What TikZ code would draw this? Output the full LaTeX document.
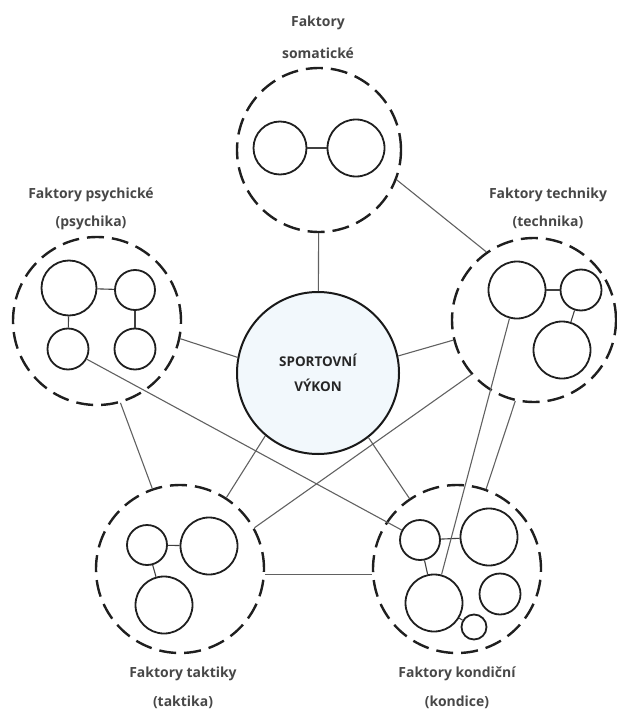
\documentclass[tikz,border=0pt]{standalone}
\usepackage{fontspec}
\setmainfont{Open Sans}
\definecolor{lbl}{HTML}{474747}
\definecolor{cenfill}{HTML}{F2F8FC}
\definecolor{ctext}{HTML}{262626}
\begin{document}
\begin{tikzpicture}[x=1bp,y=-1bp,
  outer/.style={circle,draw=black!88,line width=2.4bp,dash pattern=on 17bp off 8bp,inner sep=0pt,minimum size=#1},
  inner/.style={circle,draw=black!88,line width=1.8bp,inner sep=0pt,minimum size=#1},
  link/.style={draw=black!62,line width=1.1bp},
  ilink/.style={draw=black!75,line width=1.1bp},
  lab/.style={font=\bfseries\fontsize{14}{16}\selectfont,text=lbl,inner sep=0pt},
  ctr/.style={circle,draw=black!90,line width=2bp,fill=cenfill,inner sep=0pt,minimum size=162bp,
    font=\bfseries\fontsize{13.5}{25}\selectfont,text=ctext,align=center}]
\useasboundingbox (0,0) rectangle (617,711);

% outer dashed circles
\node[outer=164bp] (som) at (319,150) {};
\node[outer=168bp] (psy) at (97,321) {};
\node[outer=164bp] (tec) at (534,320) {};
\node[outer=168bp] (tak) at (180,569) {};
\node[outer=168bp] (kon) at (457,569) {};

% center
\node[ctr] (cen) at (318,373) {SPORTOVNÍ\\VÝKON};

% labels
\node[lab] (l1a) at (318,23) {Faktory};
\node[lab] (l1b) at (318,53) {somatické};
\node[lab] (l2a) at (91,195) {Faktory psychické};
\node[lab] (l2b) at (91,223) {(psychika)};
\node[lab] (l3a) at (548,195) {Faktory techniky};
\node[lab] (l3b) at (548,222) {(technika)};
\node[lab] (l4a) at (183,674) {Faktory taktiky};
\node[lab] (l4b) at (183,702) {(taktika)};
\node[lab] (l5a) at (457,674) {Faktory kondiční};
\node[lab] (l5b) at (457,702) {(kondice)};

% inner circles: somatic
\node[inner=53bp] (s1) at (280,148) {};
\node[inner=57bp] (s2) at (356,148) {};
% psychika
\node[inner=55bp] (p1) at (69,288) {};
\node[inner=40bp] (p2) at (135,290) {};
\node[inner=41bp] (p3) at (68,349) {};
\node[inner=41bp] (p4) at (135,349) {};
% technika
\node[inner=57bp] (t1) at (517,290) {};
\node[inner=41bp] (t2) at (581,290) {};
\node[inner=57bp] (t3) at (562,350) {};
% taktika
\node[inner=40bp] (a1) at (147,545) {};
\node[inner=57bp] (a2) at (209,546) {};
\node[inner=57bp] (a3) at (164,605) {};
% kondice
\node[inner=40bp] (k1) at (420,540) {};
\node[inner=57bp] (k2) at (489,537) {};
\node[inner=57bp] (k3) at (434,603) {};
\node[inner=41bp] (k4) at (500,594) {};
\node[inner=25bp] (k5) at (474,627) {};

% inner links
\draw[ilink] (s1) -- (s2);
\draw[ilink] (p1) -- (p2);
\draw[ilink] (p1) -- (p3);
\draw[ilink] (p2) -- (p4);
\draw[ilink] (t1) -- (t2);
\draw[ilink] (t2) -- (t3);
\draw[ilink] (a1) -- (a2);
\draw[ilink] (a1) -- (a3);
\draw[ilink] (k1) -- (k2);
\draw[ilink] (k1) -- (k3);
\draw[ilink] (k3) -- (k5);

% connectors
\draw[link] (som) -- (cen);
\draw[link] (som.-21) -- (tec.125);
\draw[link] (psy.-12) -- (cen.169.5);
\draw[link] (cen.12) -- (tec.194);
\draw[link] (psy.-74) -- (tak.109);
\draw[link] (p3) -- (k1);
\draw[link] (t1) -- (k3);
\draw[link] (tec.-103) -- (kon.70.5);
\draw[link] (cen.230) -- (tak.57);
\draw[link] (cen.-52) -- (kon.124);
\draw[link] (tec.221) -- (tak.29.6);
\draw[link] (tak.-4.7) -- (kon.184.7);
\end{tikzpicture}
\end{document}
